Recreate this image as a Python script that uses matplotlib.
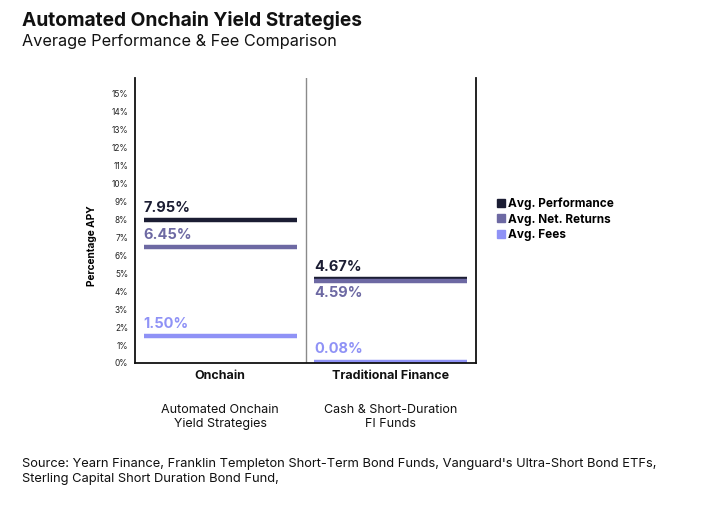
import matplotlib
matplotlib.use("Agg")
import matplotlib.pyplot as plt
from matplotlib.lines import Line2D

plt.rcParams['font.family'] = ['Inter', 'DejaVu Sans']

categories = ["Onchain", "Traditional Finance"]
subcategories = ["Automated Onchain\nYield Strategies", "Cash & Short-Duration\nFI Funds"]
series_names = ["Avg. Performance", "Avg. Net. Returns", "Avg. Fees"]
performance = [7.95, 4.67]
net_returns = [6.45, 4.59]
fees = [1.50, 0.08]
yticks = list(range(0, 16))

colors = ["#1b1d33", "#6d69a3", "#8f92f6"]

fig = plt.figure(figsize=(7.09, 5.22), dpi=100)
ax = fig.add_axes([0.1904, 0.3046, 0.4810, 0.5454])
ax.set_xlim(0, 2)
ax.set_ylim(0, 15.85)

series = [performance, net_returns, fees]
for s_idx, (vals, col) in enumerate(zip(series, colors)):
    for i, v in enumerate(vals):
        x0, x1 = i + 0.05, i + 0.95
        ax.plot([x0, x1], [v, v], color=col, lw=3.2, solid_capstyle='butt')
        if i == 1 and s_idx == 1:
            ax.annotate(f"{v:.2f}%", (x0, v), xytext=(0, -4), textcoords='offset points',
                        ha='left', va='top', fontsize=10.5, fontweight='bold', color=col)
        else:
            ax.annotate(f"{v:.2f}%", (x0, v), xytext=(0, 4), textcoords='offset points',
                        ha='left', va='bottom', fontsize=10.5, fontweight='bold', color=col)

ax.axvline(1, color="#8a8a8a", lw=1)

ax.set_yticks(yticks)
ax.set_yticklabels([f"{t}%" for t in yticks], fontsize=6, color="#222222")
ax.tick_params(axis='y', length=0, pad=5)
ax.set_xticks([])
ax.spines['top'].set_visible(False)
for sp in ['left', 'right', 'bottom']:
    ax.spines[sp].set_linewidth(1.3)
    ax.spines[sp].set_color("#111111")
ax.set_ylabel("Percentage APY", fontsize=7.3, fontweight='bold')
ax.yaxis.set_label_coords(-0.112, 0.414)

for i, (c, sc) in enumerate(zip(categories, subcategories)):
    ax.text(i + 0.5, -0.024, c, transform=ax.get_xaxis_transform(), ha='center', va='top',
            fontsize=9, fontweight='bold', color="#111111")
    ax.text(i + 0.5, -0.143, sc, transform=ax.get_xaxis_transform(), ha='center', va='top',
            fontsize=9, color="#111111", linespacing=1.25)

handles = [Line2D([], [], marker='s', ls='', color=c, markersize=5.5) for c in colors]
fig.legend(handles, series_names, loc='upper left', bbox_to_anchor=(0.685, 0.642),
           frameon=False, handletextpad=0.2, labelspacing=0.3,
           handlelength=0.8, prop={'weight': 'bold', 'size': 8.5})

fig.text(0.031, 0.978, "Automated Onchain Yield Strategies", fontsize=13.8, fontweight='bold',
         ha='left', va='top', color="#111111")
fig.text(0.031, 0.934, "Average Performance & Fee Comparison", fontsize=11.7,
         ha='left', va='top', color="#111111")

fig.text(0.031, 0.096, "Source: Yearn Finance, Franklin Templeton Short-Term Bond Funds, Vanguard's Ultra-Short Bond ETFs,\nSterling Capital Short Duration Bond Fund,",
         fontsize=9.3, ha='left', va='center', color="#111111", linespacing=1.35)

fig.savefig("out.png", dpi=100, facecolor='white')
